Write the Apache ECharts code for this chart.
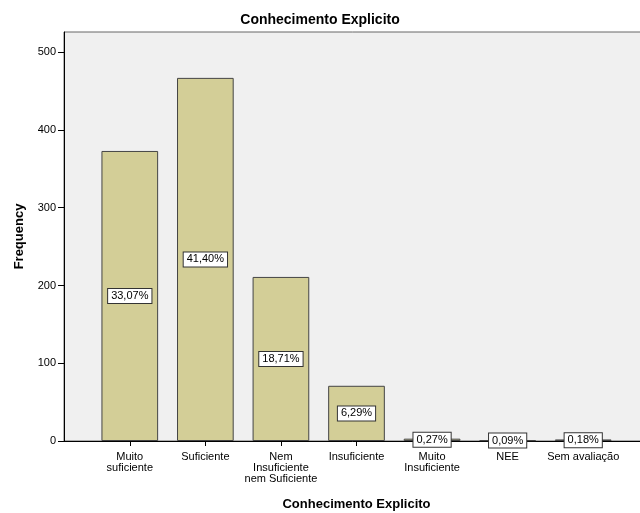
<!DOCTYPE html>
<html>
<head>
<meta charset="utf-8">
<script src="https://cdn.jsdelivr.net/npm/echarts@6/dist/echarts.min.js"></script>
<style>
  html, body { margin: 0; padding: 0; background: #fff; }
  #chart { width: 640px; height: 513px; }
</style>
</head>
<body>
<div id="chart"></div>
<script>
// Frequency of each rating of "Conhecimento Explicito"
const categories = [
  'Muito\nsuficiente',
  'Suficiente',
  'Nem\nInsuficiente\nnem Suficiente',
  'Insuficiente',
  'Muito\nInsuficiente',
  'NEE',
  'Sem avaliação'
];
const frequencies = [373, 467, 211, 71, 3, 1, 2];
const yTicks = [0, 100, 200, 300, 400, 500];

const total = frequencies.reduce((a, b) => a + b, 0);
const pctLabel = v => (v / total * 100).toFixed(2).replace('.', ',') + '%';

const FONT = '"Liberation Sans", Arial, sans-serif';
const Y_MAX = 526;

const chart = echarts.init(document.getElementById('chart'), null, { renderer: 'canvas' });

chart.setOption({
  animation: false,
  backgroundColor: '#ffffff',
  textStyle: { fontFamily: FONT },
  title: {
    text: 'Conhecimento Explicito',
    left: 'center',
    top: 8,
    textStyle: { fontFamily: FONT, fontSize: 14, fontWeight: 'bold', color: '#000' }
  },
  grid: [
    // frame, background and frequency axis
    { left: 64, top: 32, right: -1, bottom: 72, show: true, outerBoundsMode: 'none',
      backgroundColor: '#f0f0f0', borderColor: '#666', borderWidth: 1 },
    // category band for the bars
    { left: 92, top: 32, right: 19, bottom: 72, outerBoundsMode: 'none' }
  ],
  xAxis: [
    { gridIndex: 0, type: 'value', min: 0, max: 1,
      axisLine: { show: true, lineStyle: { color: '#000', width: 1 } },
      axisTick: { show: false }, axisLabel: { show: false }, splitLine: { show: false } },
    { gridIndex: 1, type: 'category', data: categories,
      axisLine: { show: false },
      axisTick: { show: true, alignWithLabel: true, length: 5, lineStyle: { color: '#000' } },
      axisLabel: { fontFamily: FONT, fontSize: 11, color: '#000', lineHeight: 11, margin: 10, interval: 0 },
      name: 'Conhecimento Explicito', nameLocation: 'middle', nameGap: 57,
      nameTextStyle: { fontFamily: FONT, fontSize: 13, fontWeight: 'bold', color: '#000' } }
  ],
  yAxis: [
    { gridIndex: 0, type: 'value', min: 0, max: Y_MAX,
      axisLine: { show: true, lineStyle: { color: '#000', width: 1 } },
      axisTick: { show: true, length: 6, lineStyle: { color: '#000' }, customValues: yTicks },
      axisLabel: { fontFamily: FONT, fontSize: 11, color: '#000', margin: 8, customValues: yTicks },
      splitLine: { show: false },
      name: 'Frequency', nameLocation: 'middle', nameGap: 38,
      nameTextStyle: { fontFamily: FONT, fontSize: 13, fontWeight: 'bold', color: '#000' } },
    { gridIndex: 1, type: 'value', min: 0, max: Y_MAX, show: false }
  ],
  series: [{
    type: 'bar',
    xAxisIndex: 1,
    yAxisIndex: 1,
    data: frequencies,
    barCategoryGap: '25%',
    itemStyle: { color: '#d3ce97', borderColor: '#444', borderWidth: 1 },
    label: {
      show: true,
      position: 'inside',
      formatter: p => pctLabel(p.value),
      fontFamily: FONT,
      fontSize: 11,
      color: '#000',
      backgroundColor: '#ffffff',
      borderColor: '#333',
      borderWidth: 1,
      padding: [2, 3, 1, 3]
    },
    z: 5
  }]
});
</script>
</body>
</html>
